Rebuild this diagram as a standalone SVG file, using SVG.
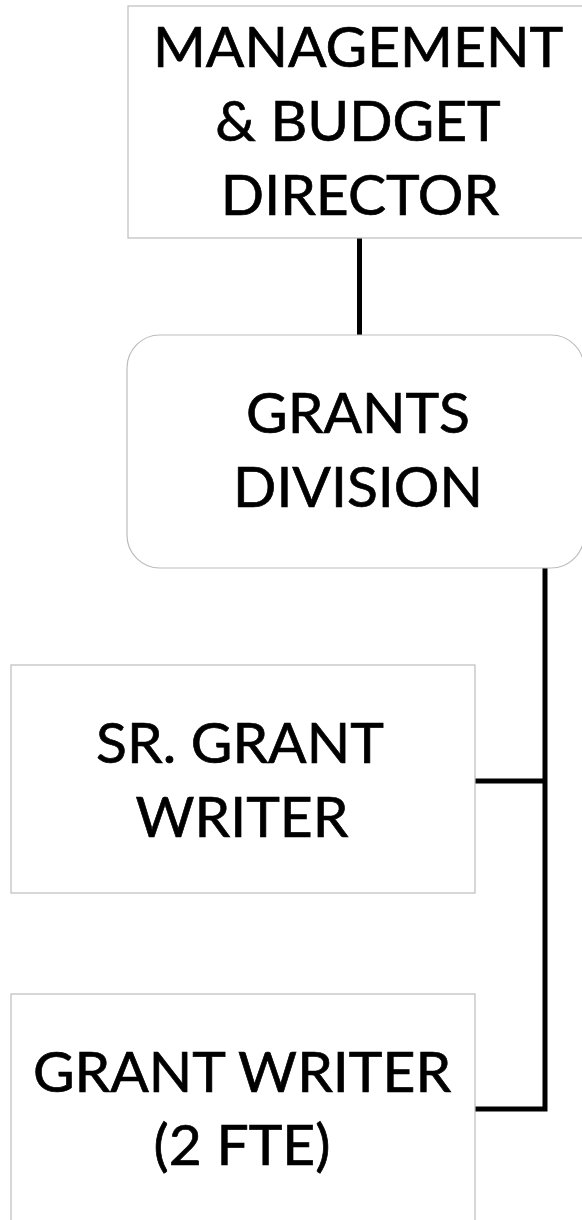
<svg xmlns="http://www.w3.org/2000/svg" width="582" height="1220" viewBox="0 0 582 1220">
  <style>
    .box { fill: #ffffff; stroke: #bdbdbd; stroke-width: 1.2; }
    .label { font-family: Lato, "Open Sans", sans-serif; font-size: 57px; fill: #000000; stroke: #000000; stroke-width: 0.7; text-anchor: middle; }
    .link { fill: none; stroke: #000000; stroke-width: 5; stroke-linejoin: miter; stroke-linecap: butt; }
  </style>
  <rect width="582" height="1220" fill="#ffffff"/>

  <g id="connectors">
    <line class="link" x1="359.5" y1="238" x2="359.5" y2="335"/>
    <polyline class="link" points="545,568 545,1109 475,1109"/>
    <line class="link" x1="475" y1="781" x2="545" y2="781"/>
  </g>

  <g id="director">
    <rect class="box" x="128" y="6" width="460" height="232"/>
    <text class="label" x="358" y="67">MANAGEMENT</text>
    <text class="label" x="358" y="141">&amp; BUDGET</text>
    <text class="label" x="360" y="215">DIRECTOR</text>
  </g>

  <g id="grants-division">
    <rect class="box" x="127" y="335" width="457" height="233" rx="33" ry="33"/>
    <text class="label" x="358" y="433">GRANTS</text>
    <text class="label" x="358" y="507">DIVISION</text>
  </g>

  <g id="sr-grant-writer">
    <rect class="box" x="11" y="665" width="464" height="228"/>
    <text class="label" x="240" y="763">SR. GRANT</text>
    <text class="label" x="242" y="837">WRITER</text>
  </g>

  <g id="grant-writer">
    <rect class="box" x="11" y="994" width="464" height="240"/>
    <text class="label" x="242" y="1092">GRANT WRITER</text>
    <text class="label" x="242" y="1165">(2 FTE)</text>
  </g>
</svg>
